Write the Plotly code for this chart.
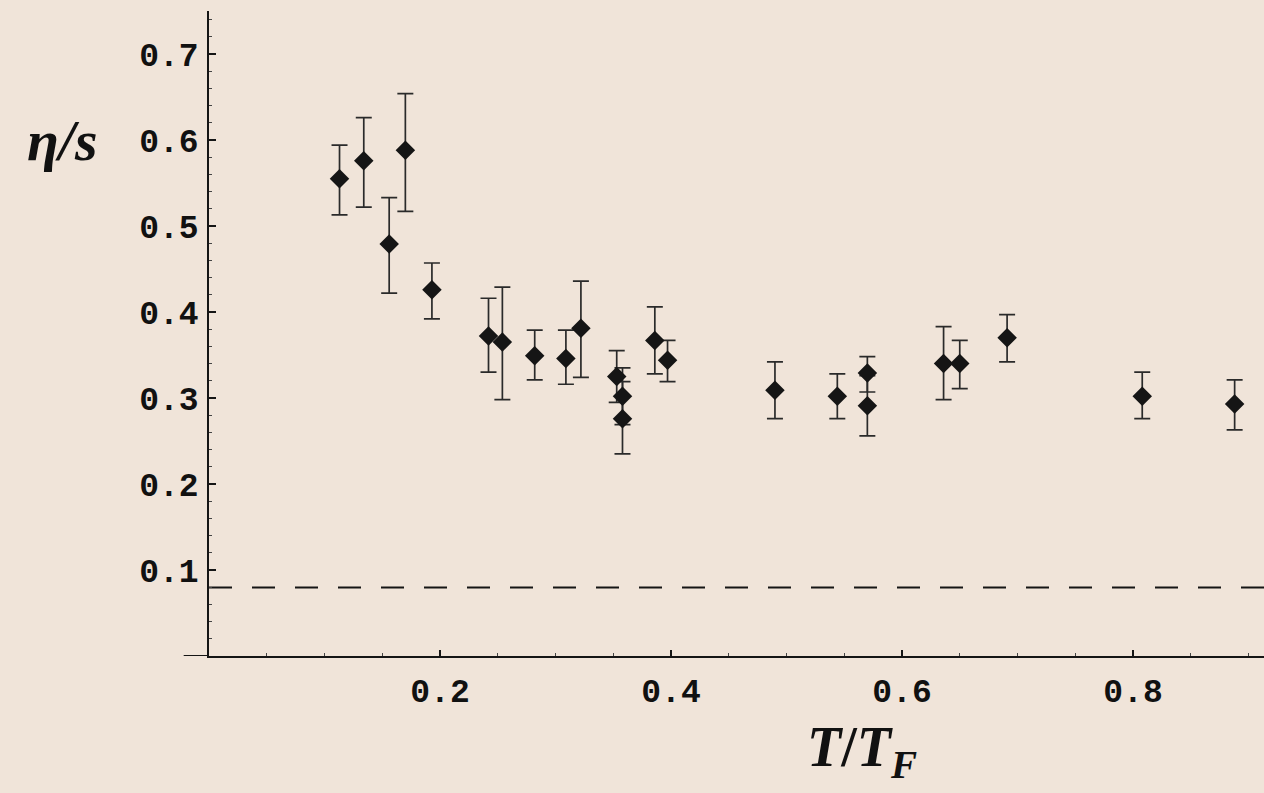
import plotly.graph_objects as go

# T/T_F values
t_ratio = [0.113, 0.134, 0.156, 0.170, 0.193, 0.242, 0.254, 0.282, 0.309, 0.322,
           0.353, 0.358, 0.358, 0.386, 0.397, 0.490, 0.544, 0.570, 0.570, 0.636,
           0.650, 0.691, 0.808, 0.888]
# eta/s values
eta_s = [0.555, 0.576, 0.479, 0.588, 0.426, 0.372, 0.365, 0.349, 0.346, 0.381,
         0.325, 0.302, 0.276, 0.367, 0.344, 0.309, 0.302, 0.329, 0.291, 0.340,
         0.340, 0.370, 0.302, 0.293]
err_upper = [0.594, 0.626, 0.533, 0.654, 0.457, 0.416, 0.429, 0.379, 0.379, 0.436,
             0.355, 0.335, 0.319, 0.406, 0.367, 0.342, 0.328, 0.348, 0.326, 0.383,
             0.367, 0.397, 0.330, 0.321]
err_lower = [0.513, 0.522, 0.422, 0.517, 0.392, 0.330, 0.298, 0.321, 0.316, 0.324,
             0.295, 0.269, 0.235, 0.328, 0.319, 0.276, 0.276, 0.307, 0.256, 0.298,
             0.311, 0.342, 0.276, 0.263]
kss_bound = 0.0796  # 1/(4 pi)
x_ticks = [0.2, 0.4, 0.6, 0.8]
y_ticks = [0.1, 0.2, 0.3, 0.4, 0.5, 0.6, 0.7]

bg = "#F0E4D9"
ink = "#151515"

plus = [u - v for u, v in zip(err_upper, eta_s)]
minus = [v - l for v, l in zip(eta_s, err_lower)]

fig = go.Figure()
fig.add_trace(go.Scatter(
    x=t_ratio, y=eta_s, mode="markers",
    marker=dict(symbol="diamond", size=15, color=ink),
    error_y=dict(type="data", symmetric=False, array=plus, arrayminus=minus,
                 color="#2a2a2a", thickness=1.7, width=8),
    showlegend=False,
))

x_max = (1264 - 209) / 1155

fig.add_trace(go.Scatter(
    x=[0, x_max], y=[kss_bound, kss_bound], mode="lines",
    line=dict(color=ink, width=2, dash="23px,20px"),
    showlegend=False, hoverinfo="skip",
))

tick_font = dict(family="Liberation Mono", size=33, color="#111", weight="bold")

fig.update_layout(
    width=1264, height=793,
    margin=dict(l=209, r=0, t=11, b=137),
    paper_bgcolor=bg, plot_bgcolor=bg,
    xaxis=dict(
        range=[0, x_max], showgrid=False, zeroline=False,
        showline=True, linecolor=ink, linewidth=2,
        tickmode="array", tickvals=x_ticks, ticktext=[str(v) for v in x_ticks],
        ticks="inside", ticklen=6, tickwidth=1.5, tickcolor=ink,
        tickfont=tick_font, ticklabelstandoff=4,
        minor=dict(tickmode="linear", tick0=0, dtick=0.05, ticks="inside",
                   ticklen=3, tickwidth=1, tickcolor="#444"),
    ),
    yaxis=dict(
        range=[0, 0.75], showgrid=False, zeroline=False,
        showline=True, linecolor=ink, linewidth=1.5,
        tickmode="array", tickvals=y_ticks, ticktext=[str(v) for v in y_ticks],
        ticks="inside", ticklen=7, tickwidth=1.5, tickcolor=ink,
        tickfont=tick_font, ticklabelstandoff=2,
        minor=dict(tickmode="linear", tick0=0, dtick=0.02, ticks="inside",
                   ticklen=3, tickwidth=1, tickcolor="#444"),
    ),
    shapes=[dict(type="line", xref="paper", yref="y", x0=-0.024, x1=0, y0=0, y1=0,
                 line=dict(color=ink, width=2))],
    annotations=[
        dict(text="<b><i>η/s</i></b>", xref="paper", yref="y", x=-0.139, y=0.6,
             xanchor="center", yanchor="middle", showarrow=False,
             font=dict(family="Liberation Serif", size=58, color="#111")),
        dict(text="<b><i>T</i>/<i>T</i><sub><i>F</i></sub></b>", xref="paper", yref="paper",
             x=0.619, y=-0.148, xanchor="center", yanchor="middle", showarrow=False,
             font=dict(family="Liberation Serif", size=56, color="#111")),
    ],
)

fig.write_html("out.html")
